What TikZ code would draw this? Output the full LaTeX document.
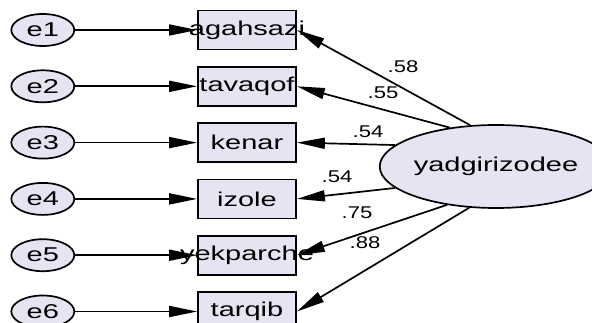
\documentclass[tikz,border=0pt]{standalone}
\usepackage{fontspec}
\setmainfont{Liberation Sans}[FakeStretch=1.45]
\newfontfamily\coeffont{Liberation Sans}[FakeStretch=1.3]
\usetikzlibrary{shapes,arrows.meta,positioning}
\definecolor{amosfill}{RGB}{232,227,243}

\begin{document}
\begin{tikzpicture}[x=1pt, y=-1pt, node distance=15.6pt, font=\fontsize{20}{22}\selectfont]
        % Define block styles
        \tikzstyle{observed} = [rectangle, draw, line width=1.7pt, fill=amosfill, minimum width=98pt, minimum height=39pt, inner sep=0pt]
        \tikzstyle{error} = [ellipse, draw, line width=1.7pt, fill=amosfill, minimum width=63pt, minimum height=32pt, inner sep=0pt]
        \tikzstyle{latent} = [ellipse, draw, line width=1.7pt, fill=amosfill, minimum width=192pt, minimum height=83pt, inner sep=0pt]
        \tikzstyle{line} = [draw, line width=1.7pt, -{Triangle[length=28pt,width=11pt]}]
        \tikzstyle{coef} = [font=\coeffont\fontsize{17}{19}\selectfont, inner sep=0pt]

        \useasboundingbox (0,0) rectangle (592,322);

        % Nodes
        \node [observed, label=center:agahsazi] (agahsazi) at (247,30) {};
        \node [observed, label=center:tavaqof, below=of agahsazi] (tavaqof) {};
        \node [observed, label=center:kenar, below=of tavaqof] (kenar) {};
        \node [observed, label=center:izole, below=of kenar] (izole) {};
        \node [observed, label=center:yekparche, below=of izole] (yekparche) {};
        \node [observed, label=center:tarqib, below=of yekparche] (tarqib) {};

        \node [error, left=122pt of agahsazi] (e1) {e1};
        \node [error, left=122pt of tavaqof] (e2) {e2};
        \node [error, left=122pt of kenar] (e3) {e3};
        \node [error, left=122pt of izole] (e4) {e4};
        \node [error, left=122pt of yekparche] (e5) {e5};
        \node [error, left=122pt of tarqib] (e6) {e6};

        \node [latent] (yadgirizodee) at (496,166.5) {yadgirizodee};

        % Arrows
        \path [line] (e1.east) -- (agahsazi.west);
        \path [line] (e2.east) -- (tavaqof.west);
        \path [line] (e3.east) -- (kenar.west);
        \path [line] (e4.east) -- (izole.west);
        \path [line] (e5.east) -- (yekparche.west);
        \path [line] (e6.east) -- (tarqib.west);

        \path [line] (yadgirizodee.122.7) -- (agahsazi.east);
        \path [line] (yadgirizodee.140.3) -- (tavaqof.east);
        \path [line] (yadgirizodee.168.3) -- (kenar.east);
        \path [line] (yadgirizodee.192.1) -- (izole.east);
        \path [line] (yadgirizodee.218) -- (yekparche.east);
        \path [line] (yadgirizodee.237.3) -- (tarqib.east);

        % Coefficients
        \node [coef] (c1) at (403,67) {.58};
        \node [coef] (c2) at (383,93) {.55};
        \node [coef] (c3) at (368,132) {.54};
        \node [coef] (c4) at (337,177) {.54};
        \node [coef] (c5) at (357,213) {.75};
        \node [coef] (c6) at (365,243) {.88};
    \end{tikzpicture}
\end{document}
